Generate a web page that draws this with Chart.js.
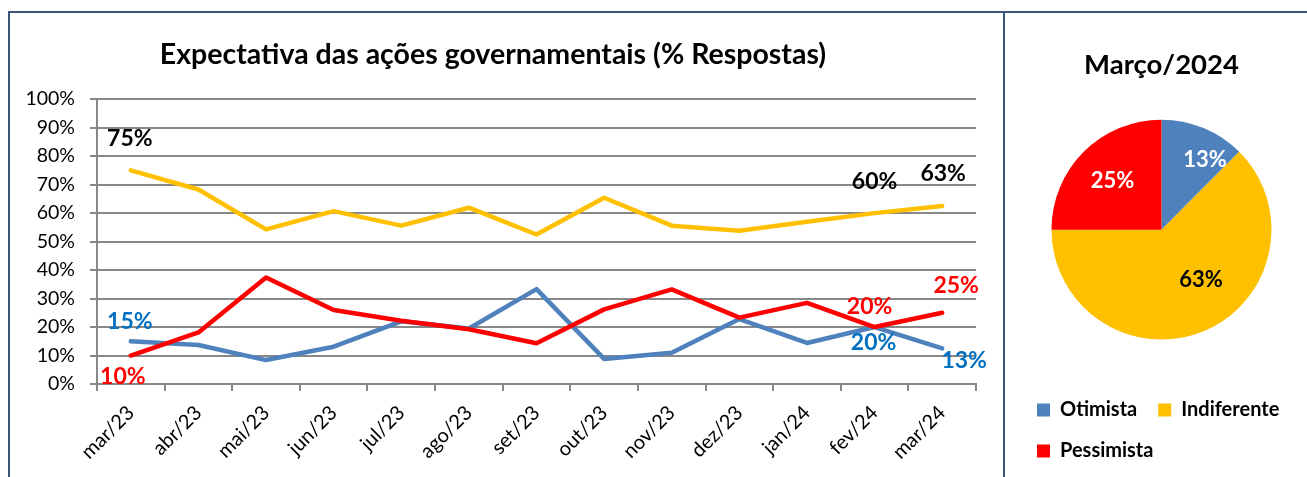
<!DOCTYPE html>
<html>
<head>
<meta charset="utf-8">
<script src="https://cdn.jsdelivr.net/npm/chart.js@4/dist/chart.umd.min.js"></script>
<style>
  html, body { margin: 0; padding: 0; background: #fff; width: 1307px; height: 477px; overflow: hidden; }
  #frame { position: absolute; left: 8px; top: 11px; width: 1400px; height: 500px;
           border-left: 2px solid #3C5677; border-top: 2px solid #3C5677; }
  #divider { position: absolute; left: 1003px; top: 11px; width: 2px; height: 470px; background: #3C5677; }
  #lineChart { position: absolute; left: 10px; top: 13px; }
  #pieChart { position: absolute; left: 1005px; top: 13px; }
</style>
</head>
<body>
<div id="frame"></div>
<div id="divider"></div>
<canvas id="lineChart" width="993" height="464"></canvas>
<canvas id="pieChart" width="302" height="464"></canvas>
<script>
// data
const months = ['mar/23', 'abr/23', 'mai/23', 'jun/23', 'jul/23', 'ago/23', 'set/23',
                'out/23', 'nov/23', 'dez/23', 'jan/24', 'fev/24', 'mar/24'];
const otimista    = [15, 13.7, 8.4, 13.1, 22, 19.5, 33.3, 8.8, 11, 22.8, 14.4, 20, 12.5];
const indiferente = [75, 68.3, 54.3, 60.7, 55.6, 61.9, 52.5, 65.4, 55.6, 53.8, 57, 60, 62.5];
const pessimista  = [10, 18.1, 37.4, 26, 22.2, 19.2, 14.3, 26.2, 33.2, 23.3, 28.5, 20, 25];
const yTicks = [0, 10, 20, 30, 40, 50, 60, 70, 80, 90, 100];

const pieLabels = ['Otimista', 'Indiferente', 'Pessimista'];
const pieValues = [12.5, 62.5, 25];

const FONT = 'Lato';
const BLUE = '#4F81BD', YELLOW = '#FFC000', RED = '#FF0000';

// which points get a value label, and where it sits relative to the point
const lineLabels = [
  { ds: 'Indiferente', i: 0,  dx: -1, dy: -32, color: '#000' },
  { ds: 'Otimista',    i: 0,  dx: -1, dy: -20, color: '#0070C0' },
  { ds: 'Pessimista',  i: 0,  dx: -8, dy: 21,  color: RED },
  { ds: 'Indiferente', i: 11, dx: 0,  dy: -32, color: '#000' },
  { ds: 'Indiferente', i: 12, dx: 1,  dy: -32, color: '#000' },
  { ds: 'Pessimista',  i: 11, dx: -5, dy: -20, color: RED },
  { ds: 'Pessimista',  i: 12, dx: 14, dy: -27, color: RED },
  { ds: 'Otimista',    i: 11, dx: -1, dy: 16,  color: '#0070C0' },
  { ds: 'Otimista',    i: 12, dx: 22, dy: 12,  color: '#0070C0' }
];

const pointLabels = {
  id: 'pointLabels',
  afterDatasetsDraw(chart) {
    const ctx = chart.ctx;
    ctx.save();
    ctx.font = 'bold 23px ' + FONT;
    ctx.textAlign = 'center';
    ctx.textBaseline = 'middle';
    lineLabels.forEach(l => {
      const dsIndex = chart.data.datasets.findIndex(d => d.label === l.ds);
      const ds = chart.data.datasets[dsIndex];
      const pt = chart.getDatasetMeta(dsIndex).data[l.i];
      ctx.fillStyle = l.color;
      ctx.fillText(Math.round(ds.data[l.i]) + '%', pt.x + l.dx, pt.y + l.dy);
    });
    ctx.restore();
  }
};

new Chart(document.getElementById('lineChart'), {
  type: 'line',
  data: {
    labels: months,
    datasets: [
      { label: 'Otimista', data: otimista, borderColor: BLUE, order: 2 },
      { label: 'Indiferente', data: indiferente, borderColor: YELLOW, order: 1 },
      { label: 'Pessimista', data: pessimista, borderColor: RED, order: 0 }
    ]
  },
  options: {
    responsive: false,
    animation: false,
    devicePixelRatio: 1,
    elements: {
      line: { borderWidth: 4.5, tension: 0, borderJoinStyle: 'round', borderCapStyle: 'round' },
      point: { radius: 0 }
    },
    layout: { padding: { left: 0, right: 27, top: 0, bottom: 0 } },
    plugins: {
      legend: { display: false },
      tooltip: { enabled: false },
      title: {
        display: true,
        text: 'Expectativa das ações governamentais (% Respostas)',
        color: '#000',
        font: { family: FONT, size: 28.5, weight: 'bold' },
        padding: { top: 25, bottom: 27 }
      }
    },
    scales: {
      x: {
        offset: true,
        grid: { offset: true, drawOnChartArea: false, drawTicks: true, tickLength: 7, color: '#888', lineWidth: 2 },
        border: { color: '#888', width: 2 },
        ticks: { minRotation: 45, maxRotation: 45, color: '#000', padding: 10, font: { family: FONT, size: 20 } },
        afterFit(s) { s.height = 93; }
      },
      y: {
        min: 0, max: 100,
        afterBuildTicks(s) { s.ticks = yTicks.map(v => ({ value: v })); },
        grid: { color: '#888', lineWidth: 2, tickLength: 7 },
        border: { color: '#888', width: 2 },
        ticks: { color: '#000', padding: 15, font: { family: FONT, size: 19.5 }, callback: v => v + '%' },
        afterFit(s) { s.width = 87; }
      }
    }
  },
  plugins: [pointLabels]
});

// slice labels, offset from each arc's centroid
const sliceLabels = [
  { dx: 15, dy: -1, color: '#fff' },
  { dx: 11, dy: -19, color: '#000' },
  { dx: 4, dy: 4, color: '#fff' }
];

const pieValueLabels = {
  id: 'pieValueLabels',
  afterDatasetsDraw(chart) {
    const ctx = chart.ctx;
    const meta = chart.getDatasetMeta(0);
    ctx.save();
    ctx.font = 'bold 22px ' + FONT;
    ctx.textAlign = 'center';
    ctx.textBaseline = 'middle';
    meta.data.forEach((arc, i) => {
      const mid = (arc.startAngle + arc.endAngle) / 2;
      const r = arc.outerRadius * 0.68;
      const x = arc.x + Math.cos(mid) * r + sliceLabels[i].dx;
      const y = arc.y + Math.sin(mid) * r + sliceLabels[i].dy;
      ctx.fillStyle = sliceLabels[i].color;
      ctx.fillText(Math.round(pieValues[i]) + '%', x, y);
    });
    ctx.restore();
  }
};

new Chart(document.getElementById('pieChart'), {
  type: 'pie',
  data: {
    labels: pieLabels,
    datasets: [{
      data: pieValues,
      backgroundColor: [BLUE, YELLOW, RED],
      borderWidth: 0,
      radius: 110
    }]
  },
  options: {
    responsive: false,
    animation: false,
    devicePixelRatio: 1,
    layout: { padding: { left: 11, right: 0, top: 0, bottom: 6 } },
    plugins: {
      tooltip: { enabled: false },
      title: {
        display: true,
        text: 'Março/2024',
        color: '#000',
        font: { family: FONT, size: 27.5, weight: 'bold', lineHeight: 1.1 },
        padding: { top: 37, bottom: 0 }
      },
      legend: {
        position: 'bottom',
        align: 'start',
        labels: {
          boxWidth: 13, boxHeight: 13, padding: 21, color: '#000',
          font: { family: FONT, size: 20, weight: 'bold' }
        }
      }
    }
  },
  plugins: [pieValueLabels]
});
</script>
</body>
</html>
